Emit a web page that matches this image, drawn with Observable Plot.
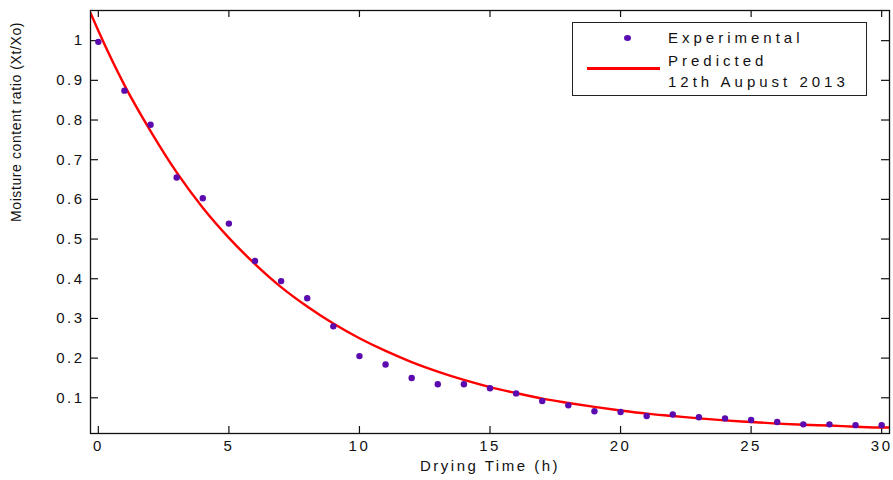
<!DOCTYPE html>
<html><head><meta charset="utf-8">
<script src="https://cdn.jsdelivr.net/npm/d3@7"></script>
<script src="https://cdn.jsdelivr.net/npm/@observablehq/plot@0.6"></script>
<style>
body{margin:0;background:#fff;}
#wrap{position:relative;width:893px;height:480px;overflow:hidden;}
#legend{position:absolute;left:572px;top:22px;width:293px;height:72px;border:1px solid #222;background:#fff;font-family:"Liberation Sans",Arial,sans-serif;font-size:15px;letter-spacing:4px;color:#111;}
#legend .t{position:absolute;left:95px;line-height:18px;white-space:nowrap;}
#legend .m{position:absolute;left:51px;top:12px;width:7px;height:6px;border-radius:50%;background:#5a0aae;}
#legend .l{position:absolute;left:14px;top:44px;width:73px;height:2.5px;background:#ff0000;}
</style></head><body><div id="wrap"></div>
<script>
// Experimental data
const time = [0,1,2,3,4,5,6,7,8,9,10,11,12,13,14,15,16,17,18,19,20,21,22,23,24,25,26,27,28,29,30];
const measured = [0.997,0.874,0.788,0.655,0.603,0.539,0.445,0.394,0.351,0.280,0.205,0.184,0.150,0.134,0.134,0.124,0.111,0.092,0.081,0.066,0.064,0.054,0.058,0.051,0.048,0.044,0.039,0.033,0.033,0.031,0.031];
// Predicted curve
const predTime = [-0.3,0,1,2,3,4,5,6,7,8,9,10,11,12,13,14,15,16,17,18,19,20,21,22,23,24,25,26,27,28,29,30,30.3];
const predicted = [1.070,1.025,0.888,0.772,0.668,0.579,0.503,0.437,0.379,0.330,0.287,0.250,0.218,0.190,0.166,0.145,0.127,0.112,0.098,0.087,0.077,0.068,0.060,0.054,0.048,0.043,0.039,0.035,0.032,0.030,0.027,0.025,0.025];
const xTicks = [0,5,10,15,20,25,30];
const yTicks = [0.1,0.2,0.3,0.4,0.5,0.6,0.7,0.8,0.9,1];
const xLabel = "Drying Time (h)";
const yLabel = "Moisture content ratio (Xt/Xo)";
const legendLabels = ["Experimental","Predicted","12th Aupust 2013"];

const W=893,H=480,mL=90,mR=4,mT=10,mB=47;
const pw=W-mL-mR, ph=H-mT-mB;
const expData = time.map((t,i)=>({t, v:measured[i]}));
const predData = predTime.map((t,i)=>({t, v:predicted[i]}));
const ink="#111";
const svg = Plot.plot({
  width:W, height:H, marginLeft:mL, marginRight:mR, marginTop:mT, marginBottom:mB,
  x:{domain:[-0.3,30.3]},
  y:{domain:[0.01,1.076]},
  style:{fontFamily:"'Liberation Sans', Arial, sans-serif", fontSize:"15px", color:ink, background:"#fff", letterSpacing:"2.5px"},
  marks:[
    Plot.axisX(xTicks,{anchor:"bottom", tickSize:0, tickPadding:7, label:null, tickFormat:d=>String(d)}),
    Plot.axisY(yTicks,{anchor:"left", tickSize:0, tickPadding:6, label:null, tickFormat:d=>String(d)}),
    Plot.tickX(xTicks,{x:d=>d, insetTop:ph-7, stroke:ink, strokeWidth:1.2}),
    Plot.tickX(xTicks,{x:d=>d, insetBottom:ph-7, stroke:ink, strokeWidth:1.2}),
    Plot.tickY(yTicks,{y:d=>d, insetRight:pw-8, stroke:ink, strokeWidth:1.2}),
    Plot.tickY(yTicks,{y:d=>d, insetLeft:pw-8, stroke:ink, strokeWidth:1.2}),
    Plot.line(predData,{x:"t", y:"v", stroke:"#ff0000", strokeWidth:2.4, curve:"monotone-x", clip:true}),
    Plot.dot(expData,{x:"t", y:"v", r:3.2, fill:"#5a0aae", stroke:"none"}),
    Plot.frame({stroke:ink, strokeWidth:1.3}),
    Plot.text([xLabel],{frameAnchor:"bottom", dy:37, text:d=>d, fill:ink, fontSize:15}),
    Plot.text([yLabel],{frameAnchor:"left", dx:-74, rotate:-90, text:d=>d, fill:ink, fontSize:14})
  ]
});
d3.select(svg).selectAll("text").filter(function(){return this.textContent===yLabel;}).style("letter-spacing","0.6px");
const wrap=document.getElementById("wrap");
wrap.appendChild(svg);
const lg=document.createElement("div");
lg.id="legend";
lg.innerHTML=`<div class="m"></div><div class="t" style="top:6px">${legendLabels[0]}</div><div class="l"></div><div class="t" style="top:29px">${legendLabels[1]}</div><div class="t" style="top:50px">${legendLabels[2]}</div>`;
wrap.appendChild(lg);
</script></body></html>
